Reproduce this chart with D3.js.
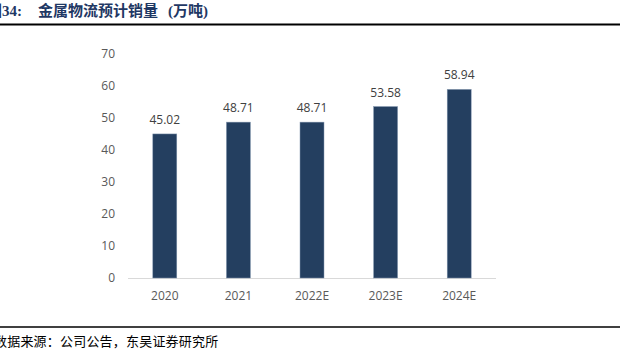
<!DOCTYPE html>
<html>
<head>
<meta charset="utf-8">
<script src="https://cdn.jsdelivr.net/npm/d3@7"></script>
<style>
  body { margin: 0; background: #fff; }
  svg { display: block; }
</style>
</head>
<body>
<svg id="chart" width="625" height="351"></svg>
<script>
// data
const years = ['2020', '2021', '2022E', '2023E', '2024E'];
const sales = [45.02, 48.71, 48.71, 53.58, 58.94];
const yTicks = [0, 10, 20, 30, 40, 50, 60, 70];

const svg = d3.select('#chart');
const W = 625, H = 351;
const m = { l: 128, r: 129, t: 54, b: 73 };

const cjk = '"Noto Sans CJK SC", sans-serif';
const serif = '"Liberation Serif", "DejaVu Serif", serif';

// title (left edge is clipped in the reference too)
const title = svg.append('text')
  .attr('x', -13).attr('y', 16)
  .attr('font-weight', 'bold').attr('font-size', 15)
  .attr('fill', '#1f3864');
title.append('tspan').attr('font-family', cjk).text('图');
title.append('tspan').attr('font-family', serif).text('34:');
title.append('tspan').attr('font-family', cjk).attr('dx', 16).text('金属物流预计销量');
title.append('tspan').attr('font-family', serif).attr('dx', 10).text('(');
title.append('tspan').attr('font-family', cjk).text('万吨');
title.append('tspan').attr('font-family', serif).text(')');

svg.append('line').attr('x1', 0).attr('x2', 620).attr('y1', 24.5).attr('y2', 24.5)
  .attr('stroke', '#000').attr('stroke-width', 2);
svg.append('line').attr('x1', 0).attr('x2', 620).attr('y1', 327).attr('y2', 327)
  .attr('stroke', '#000').attr('stroke-width', 1.5);
svg.append('text')
  .attr('x', -6).attr('y', 346)
  .attr('font-family', cjk)
  .attr('font-size', 13).attr('letter-spacing', 0.2).attr('fill', '#000')
  .text('数据来源：公司公告，东吴证券研究所');

const x = d3.scaleBand().domain(years).range([m.l, W - m.r]).paddingInner(0.674).paddingOuter(0.337);
const y = d3.scaleLinear().domain([0, 70]).range([H - m.b, m.t]);

const font = '"Open Sans", "Liberation Sans", sans-serif';

// y axis (no line, labels only)
const ya = svg.append('g').attr('transform', `translate(${m.l - 13},0)`)
  .call(d3.axisLeft(y).tickValues(yTicks).tickSize(0).tickPadding(0));
ya.select('.domain').remove();
ya.selectAll('text').attr('font-family', font).attr('font-size', 12).attr('fill', '#595959');

// baseline
svg.append('line')
  .attr('x1', m.l).attr('x2', W - m.r)
  .attr('y1', y(0) + 0.5).attr('y2', y(0) + 0.5)
  .attr('stroke', '#d9d9d9').attr('stroke-width', 1);

// x axis labels
const xa = svg.append('g').attr('transform', `translate(0,${y(0)})`)
  .call(d3.axisBottom(x).tickSize(0).tickPadding(13));
xa.select('.domain').remove();
xa.selectAll('text').attr('font-family', font).attr('font-size', 12).attr('fill', '#595959');

// bars
svg.append('g').selectAll('rect')
  .data(sales)
  .join('rect')
    .attr('x', (d, i) => x(years[i]))
    .attr('y', d => y(d))
    .attr('width', x.bandwidth())
    .attr('height', d => y(0) - y(d))
    .attr('fill', '#243f60')
    .attr('stroke', '#8497b0').attr('stroke-width', 0.5);

// value labels
svg.append('g').selectAll('text')
  .data(sales)
  .join('text')
    .attr('x', (d, i) => x(years[i]) + x.bandwidth() / 2)
    .attr('y', d => y(d) - 10)
    .attr('text-anchor', 'middle')
    .attr('font-family', font).attr('font-size', 12).attr('fill', '#404040')
    .text(d => d.toFixed(2));
</script>
</body>
</html>
